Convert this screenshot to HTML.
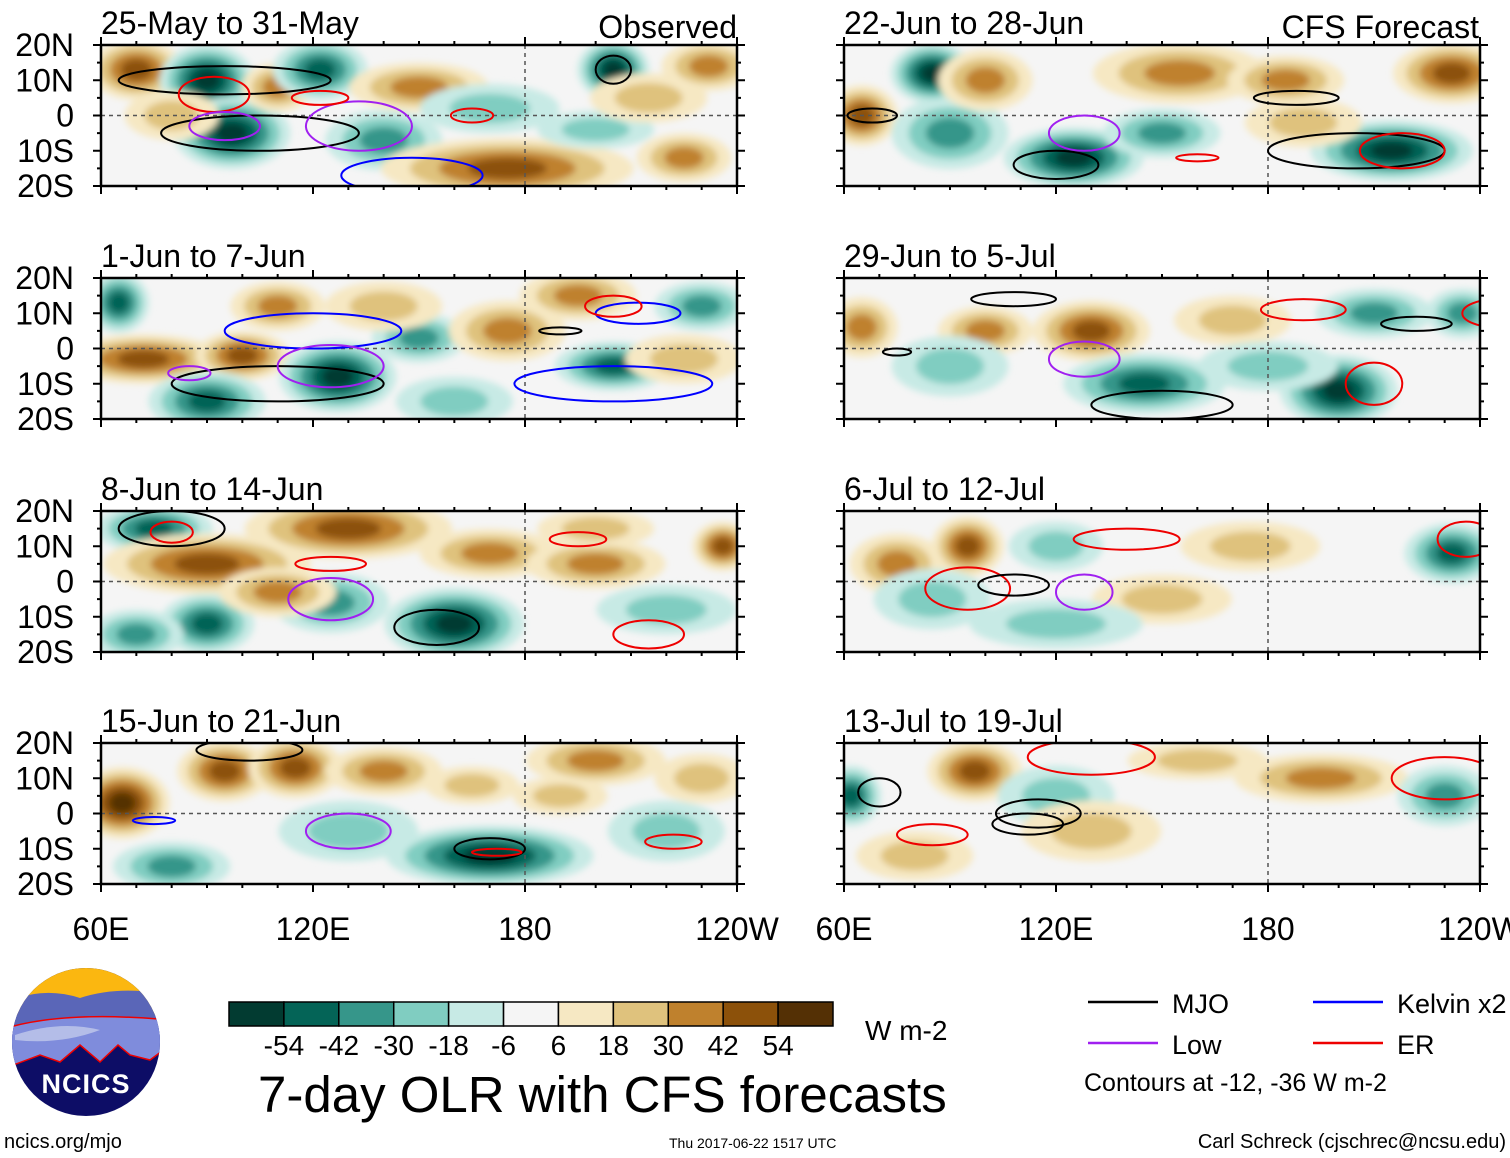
<!DOCTYPE html>
<html><head><meta charset="utf-8">
<style>
body{margin:0;background:#fff;}
svg{display:block;font-family:"Liberation Sans",sans-serif;}
</style></head>
<body>
<svg id="fig" width="1510" height="1158" viewBox="0 0 1510 1158" xmlns="http://www.w3.org/2000/svg">
<defs>
<filter id="blur" x="-20%" y="-20%" width="140%" height="140%"><feGaussianBlur stdDeviation="3.5"/></filter>
</defs>
</svg>
<script>
// ---- data ----
const panelTitles = ["25-May to 31-May","1-Jun to 7-Jun","8-Jun to 14-Jun","15-Jun to 21-Jun","22-Jun to 28-Jun","29-Jun to 5-Jul","6-Jul to 12-Jul","13-Jul to 19-Jul"];
const latTicks = ["20N","10N","0","10S","20S"];
const lonTicks = ["60E","120E","180","120W"];
const lonTickValues = [60,120,180,240];
const cbLevels = ["-54","-42","-30","-18","-6","6","18","30","42","54"];
const cbColors = ["#023b31","#046457","#36968a","#80cdc1","#c7eae5","#f5f5f5","#f6e8c3","#dfc27d","#bf812d","#8c510a","#543005"];
// anomaly blobs: [lon, lat, rlon, rlat, value]
const blobs0 = [[70,13,8,5,40],[90,10,8,6,-42],[97,-5,10,6,-52],[110,8,6,4,25],[122,13,8,5,-30],[150,8,12,4,25],[140,-7,10,5,-25],[175,-15,22,5,40],[205,13,6,5,-45],[232,14,8,4,25],[200,-4,10,3,-15],[225,-12,8,4,20],[80,0,8,4,15],[170,2,12,4,-10],[215,5,10,4,10]];
const blobs1 = [[65,13,5,5,-40],[72,-3,14,4,30],[100,-2,8,4,30],[90,-15,10,5,-30],[127,-8,10,6,-45],[110,12,8,4,25],[150,3,8,4,-20],[175,5,10,5,25],[205,-5,10,4,-30],[195,15,10,4,20],[230,12,8,4,-20],[160,-15,10,4,-15],[225,-3,10,4,10],[140,12,10,4,15]];
const blobs2 = [[75,15,10,4,-40],[90,5,18,5,40],[130,15,18,5,35],[90,-12,8,5,-40],[160,-12,12,6,-45],[170,8,12,4,20],[125,-6,10,5,-20],[200,5,12,4,20],[236,10,5,4,35],[70,-15,8,4,-25],[110,-3,10,4,25],[220,-8,12,4,-10],[200,15,10,3,10]];
const blobs3 = [[66,3,8,6,45],[95,12,8,5,30],[115,13,8,5,40],[170,-12,18,5,-45],[130,-5,12,5,-15],[200,15,12,4,25],[220,-5,10,5,-15],[140,12,10,4,25],[80,-15,10,4,-20],[190,5,8,3,15],[230,10,8,4,15],[165,8,8,3,15]];
const blobs4 = [[65,0,6,5,30],[85,12,7,5,-45],[125,-12,12,5,-45],[150,-5,10,4,-25],[155,12,15,5,25],[215,-10,14,5,-45],[232,12,10,5,30],[185,10,10,4,20],[90,-5,10,6,-20],[100,10,8,5,25],[190,-2,10,4,10]];
const blobs5 = [[65,6,6,5,25],[130,5,10,5,35],[100,5,8,4,25],[145,-10,14,5,-30],[200,-12,10,6,-45],[210,10,10,4,-20],[235,10,6,4,-25],[170,8,10,4,15],[90,-5,10,5,-15],[180,-5,12,4,-10]];
const blobs6 = [[75,5,8,5,25],[95,10,6,5,30],[120,10,8,4,-15],[175,10,12,4,15],[232,8,8,5,-40],[150,-5,12,4,10],[85,-5,10,5,-15],[120,-12,15,4,-10]];
const blobs7 = [[62,5,5,5,-40],[97,12,8,5,30],[120,5,10,5,-15],[195,10,15,4,20],[230,5,8,5,-25],[130,-5,12,5,10],[80,-12,10,4,10],[160,15,12,3,10]];
const blobSets = [blobs0,blobs1,blobs2,blobs3,blobs4,blobs5,blobs6,blobs7];
// contours: [lon, lat, rlon, rlat, color]
const contours0 = [[95,10,30,4,"#000"],[105,-5,28,5,"#000"],[92,6,10,5,"#e00"],[95,-3,10,4,"#a020f0"],[133,-3,15,7,"#a020f0"],[148,-17,20,5,"#00f"],[122,5,8,2,"#e00"],[165,0,6,2,"#e00"],[205,13,5,4,"#000"]];
const contours1 = [[110,-10,30,5,"#000"],[120,5,25,5,"#00f"],[125,-5,15,6,"#a020f0"],[205,-10,28,5,"#00f"],[212,10,12,3,"#00f"],[205,12,8,3,"#e00"],[85,-7,6,2,"#a020f0"],[190,5,6,1,"#000"]];
const contours2 = [[80,15,15,5,"#000"],[125,-5,12,6,"#a020f0"],[155,-13,12,5,"#000"],[125,5,10,2,"#e00"],[195,12,8,2,"#e00"],[215,-15,10,4,"#e00"],[80,14,6,3,"#e00"]];
const contours3 = [[75,-2,6,1,"#00f"],[130,-5,12,5,"#a020f0"],[170,-10,10,3,"#000"],[172,-11,7,1,"#e00"],[222,-8,8,2,"#e00"],[102,18,15,3,"#000"]];
const contours4 = [[68,0,7,2,"#000"],[120,-14,12,4,"#000"],[128,-5,10,5,"#a020f0"],[205,-10,25,5,"#000"],[218,-10,12,5,"#e00"],[188,5,12,2,"#000"],[160,-12,6,1,"#e00"]];
const contours5 = [[108,14,12,2,"#000"],[128,-3,10,5,"#a020f0"],[210,-10,8,6,"#e00"],[190,11,12,3,"#e00"],[222,7,10,2,"#000"],[245,10,10,4,"#e00"],[75,-1,4,1,"#000"],[150,-16,20,4,"#000"]];
const contours6 = [[95,-2,12,6,"#e00"],[108,-1,10,3,"#000"],[128,-3,8,5,"#a020f0"],[140,12,15,3,"#e00"],[236,12,8,5,"#e00"]];
const contours7 = [[70,6,6,4,"#000"],[85,-6,10,3,"#e00"],[130,16,18,5,"#e00"],[115,0,12,4,"#000"],[230,10,15,6,"#e00"],[112,-3,10,3,"#000"]];
const contourSets = [contours0,contours1,contours2,contours3,contours4,contours5,contours6,contours7];

// ---- layout ----
const NS="http://www.w3.org/2000/svg";
const svg=document.getElementById('fig');
const colX=[101,844], rowY=[45,278,511,743], PW=636, PH=141, GROW=1.6;
function el(t,a,p){const e=document.createElementNS(NS,t);for(const k in a)e.setAttribute(k,a[k]);(p||svg).appendChild(e);return e;}
function colorFor(v){const lv=[-54,-42,-30,-18,-6,6,18,30,42,54];let i=0;while(i<lv.length&&v>=lv[i])i++;return cbColors[i];}

for(let p=0;p<8;p++){
  const c=p<4?0:1,r=p%4,x0=colX[c],y0=rowY[r];
  const xs=lon=>x0+(lon-60)/180*PW, ys=lat=>y0+(20-lat)/40*PH;
  const g=el('g',{});
  
  
  const cid='clip'+p;
  const cp=el('clipPath',{id:cid},svg.querySelector('defs'));
  el('rect',{x:x0,y:y0,width:PW,height:PH},cp);
  el('rect',{x:x0,y:y0,width:PW,height:PH,fill:'#f5f5f5'},g);
  const bg=el('g',{'clip-path':`url(#${cid})`},g);
  const fg=el('g',{filter:'url(#blur)'},bg);
  for(const b of blobSets[p]){
    const sgn=Math.sign(b[4]);
    const n=Math.round(Math.abs(b[4])/12)+1;
    for(let k=0;k<n;k++){
      const v=sgn*(12*k+7);
      const f=1-k/(n+0.3);
      const e=el('ellipse',{cx:xs(b[0]),cy:ys(b[1]),rx:b[2]*GROW*PW/180*f+2,ry:b[3]*GROW*PH/40*f+2,fill:colorFor(v)},fg);
      
      
    }
  }
  el('line',{x1:x0,x2:x0+PW,y1:ys(0),y2:ys(0),stroke:'#555','stroke-dasharray':'4,4','stroke-width':1.5},bg);
  el('line',{x1:xs(180),x2:xs(180),y1:y0,y2:y0+PH,stroke:'#555','stroke-dasharray':'4,4','stroke-width':1.5},bg);
  for(const ct of contourSets[p]){
    const e=el('ellipse',{cx:xs(ct[0]),cy:ys(ct[1]),rx:ct[2]*PW/180,ry:ct[3]*PH/40,fill:'none',stroke:ct[4],'stroke-width':2},bg);
    
    
  }
  el('rect',{x:x0,y:y0,width:PW,height:PH,fill:'none',stroke:'#000','stroke-width':2.5},g);
  for(let lon=60;lon<=240;lon+=10){const L=lon%60==0?8:4;
    el('line',{x1:xs(lon),x2:xs(lon),y1:y0,y2:y0-L,stroke:'#000','stroke-width':2},g);
    el('line',{x1:xs(lon),x2:xs(lon),y1:y0+PH,y2:y0+PH+L,stroke:'#000','stroke-width':2},g);}
  for(let lat=-20;lat<=20;lat+=5){const L=lat%10==0?8:4;
    el('line',{x1:x0,x2:x0-L,y1:ys(lat),y2:ys(lat),stroke:'#000','stroke-width':2},g);
    el('line',{x1:x0+PW,x2:x0+PW+L,y1:ys(lat),y2:ys(lat),stroke:'#000','stroke-width':2},g);}
  const t=el('text',{x:x0,y:y0-11,'font-size':32},g);t.textContent=panelTitles[p];
  
  if(c==0){latTicks.forEach((s,i)=>{const tt=el('text',{x:x0-27,y:y0+i*PH/4+11,'font-size':32,'text-anchor':'end'},g);tt.textContent=s;
    });}
  if(r==3){lonTickValues.forEach((lv,i)=>{const tt=el('text',{x:xs(lv),y:940,'font-size':32,'text-anchor':'middle'},svg);tt.textContent=lonTicks[i];
    });}
}
function txt(x,y,s,size,name,anchor){const t=el('text',{x:x,y:y,'font-size':size,'text-anchor':anchor||'start'});t.textContent=s;
  return t;}
txt(737,38,"Observed",32,'observed-label','end');
txt(1479,38,"CFS Forecast",32,'cfs-forecast-label','end');
const cbw=604/11;
cbColors.forEach((col,i)=>{const r=el('rect',{x:229+i*cbw,y:1002,width:cbw,height:24,fill:col,stroke:'#000','stroke-width':1.5});
 });
cbLevels.forEach((s,i)=>txt(229+(i+1)*cbw,1055,s,28,'colorbar-label','middle'));
txt(865,1040,"W m-2",28,'colorbar-units');
txt(258,1112,"7-day OLR with CFS forecasts",51,'figure-title');
const leg=[["MJO","#000",1088,1002],["Kelvin x2","#00f",1313,1002],["Low","#a020f0",1088,1043],["ER","#e00",1313,1043]];
leg.forEach(l=>{const ln=el('line',{x1:l[2],x2:l[2]+70,y1:l[3],y2:l[3],stroke:l[1],'stroke-width':2.5});
 
 txt(l[2]+84,l[3]+11,l[0],27,'legend-entry');});
txt(1084,1091,"Contours at -12, -36 W m-2",25,'contour-note');
txt(4,1148,"ncics.org/mjo",20,'ncics-url');
txt(669,1148,"Thu 2017-06-22 1517 UTC",14,'timestamp');
txt(1506,1148,"Carl Schreck (cjschrec@ncsu.edu)",20,'author-credit','end');
const lg=el('g',{});
el('clipPath',{id:'lc'},svg.querySelector('defs')).appendChild(el('circle',{cx:86,cy:1042,r:74}));
const lgi=el('g',{'clip-path':'url(#lc)'},lg);
el('rect',{x:0,y:960,width:170,height:160,fill:'#0d0d66'},lgi);
el('rect',{x:0,y:960,width:170,height:55,fill:'#fbb710'},lgi);
el('path',{d:'M0 1005 Q40 985 80 998 Q120 985 170 995 L170 1040 L0 1050Z',fill:'#5a66b8'},lgi);
el('path',{d:'M0 1030 Q60 1010 170 1020 L170 1045 L150 1060 L130 1055 L118 1045 L100 1062 L80 1045 L60 1062 L40 1055 L0 1070Z',fill:'#7f8cdc',stroke:'#e00','stroke-width':1.5},lgi);
el('path',{d:'M15 1035 Q60 1020 100 1030 Q60 1045 15 1040Z',fill:'#b4bde8'},lgi);
const nt=el('text',{x:86,y:1093,'font-size':27,'font-weight':'bold',fill:'#fff','text-anchor':'middle','letter-spacing':'1'},lg);nt.textContent="NCICS";
</script>
</body></html>
